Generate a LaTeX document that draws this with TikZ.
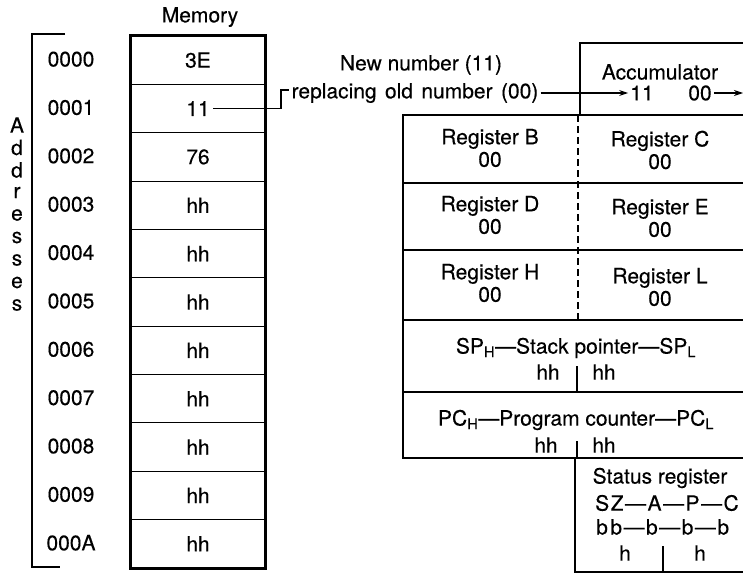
\documentclass[tikz,border=0pt]{standalone}
\usepackage{fontspec}
\setmainfont{TeX Gyre Heros}[FakeBold=0.3]
\usetikzlibrary{arrows.meta}
\begin{document}
\begin{tikzpicture}[x=1pt,y=-1pt,
  font=\fontsize{21}{22.5}\selectfont,
  cell/.style={draw, line width=1.1pt, minimum width=134pt, minimum height=48.36pt, inner sep=0pt},
  heavy/.style={line width=2.2pt},
  rowline/.style={line width=1.6pt},
  thin/.style={line width=1.1pt},
  regtxt/.style={align=center, inner sep=1pt},
  tip/.style={-{Stealth[length=9pt,width=6pt]}}
]
\useasboundingbox (0,0) rectangle (743,575);

% Memory column
\node (memtitle) at (200,17) {Memory};
\foreach \v [count=\i from 0] in {3E,11,76,hh,hh,hh,hh,hh,hh,hh,hh} {
  \node[cell] (m\i) at (198,{36+48.36*(\i+0.5)}) {};
  \node (v\i) at (m\i) {\v};
}
\draw[heavy] (m0.north west) rectangle (m10.south east);

% Addresses
\foreach \a [count=\i from 0] in {0000,0001,0002,0003,0004,0005,0006,0007,0008,0009,000A} {
  \node (ad\i) at (71,{36+48.36*(\i+0.5)-1}) {\a};
}
\draw[thin] (65,34) -- (32,34) -- (32,567) -- (60,567);
\foreach \l [count=\i from 0] in {A,d,d,r,e,s,s,e,s} {
  \node[inner sep=0pt] (al\i) at (17,{125+22.5*\i}) {\l};
}

% Labels and connector
\node (newnum) at (421,65) {New number (11)};
\node[inner sep=2pt] (rep) at (415,93) {\spaceskip=0.4em replacing old number (00)};
\coordinate (c1) at (281,90);
\draw[thin] (v1.east) -| (c1) -- (rep.west |- c1);

% Accumulator
\node (acc) at (660,72) {Accumulator};
\node[inner sep=2pt] (a11) at (642,93) {11};
\node[inner sep=2pt] (a00) at (700,93) {00};
\coordinate (accout) at (743,93);
\draw[thin,tip] (rep.east |- a11) -- (a11.west);
\draw[thin,tip] (a00.east) -- (accout);
\draw[heavy] (743,43) -- (580,43) -- (580,115);

% Register block outline
\draw[heavy] (743,115) -- (403,115) -- (403,458) -- (743,458);
\draw[heavy] (575,458) -- (575,572) -- (743,572);
\foreach \yy in {183,250,320,392} \draw[rowline] (403,\yy) -- (743,\yy);
\draw[thin,dash pattern=on 7pt off 4pt] (578,115) -- (578,320);

% Register texts
\node[regtxt] (rB) at (490,148) {Register B\\00};
\node[regtxt] (rC) at (660,150) {Register C\\00};
\node[regtxt] (rD) at (490,215) {Register D\\00};
\node[regtxt] (rE) at (660,218) {Register E\\00};
\node[regtxt] (rH) at (490,283) {Register H\\00};
\node[regtxt] (rL) at (660,287) {Register L\\00};

% Stack pointer
\node (sp) at (576,348) {SP\textsubscript{H}—Stack pointer—SP\textsubscript{L}};
\node (sph) at (548,372) {hh};
\node (spl) at (604,372) {hh};
\draw[thin] (577,366) -- (577,392);

% Program counter
\node (pc) at (576,420) {PC\textsubscript{H}—Program counter—PC\textsubscript{L}};
\node (pch) at (546,445) {hh};
\node (pcl) at (604,445) {hh};
\draw[thin] (577,441) -- (577,458);

% Status register
\node (st) at (660,478) {Status register};
\node[anchor=west,inner sep=0pt] (flags) at (595,503) {S\kern1.5pt Z\kern1.5pt—\kern1.5pt A\kern1.5pt—\kern1.5pt P\kern1.5pt—\kern1.5pt C};
\node[anchor=west,inner sep=0pt] (bits) at (596,527) {b\kern2.5pt b\kern1.5pt—\kern1.5pt b\kern1.5pt—\kern1.5pt b\kern1.5pt—\kern1.5pt b};
\node (sth) at (625,553) {h};
\node (stl) at (700,553) {h};
\draw[thin] (663,546) -- (663,572);
\end{tikzpicture}
\end{document}
